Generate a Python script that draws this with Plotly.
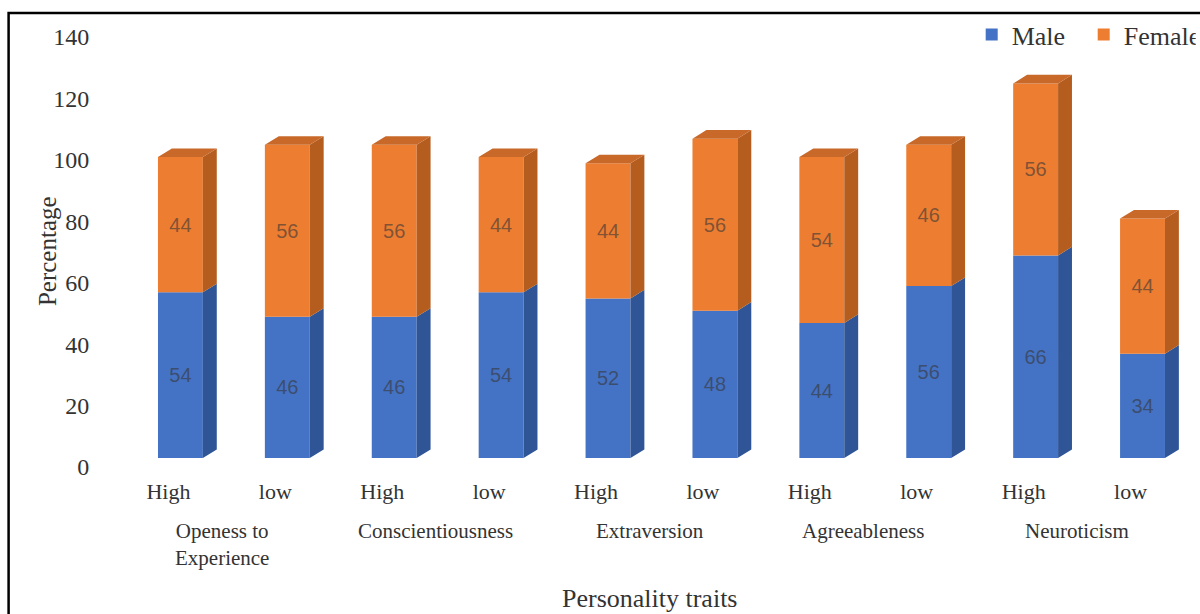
import plotly.graph_objects as go

# ---------------- data ----------------
levels = ["High", "low", "High", "low", "High", "low", "High", "low", "High", "low"]
traits = ["Openess to<br>Experience", "Conscientiousness", "Extraversion", "Agreeableness", "Neuroticism"]
male = [54, 46, 46, 54, 52, 48, 44, 56, 66, 34]
female = [44, 56, 56, 44, 44, 56, 54, 46, 56, 44]
y_ticks = [0, 20, 40, 60, 80, 100, 120, 140]

# ---------------- style ----------------
SERIF = "Liberation Serif"
SANS = "Liberation Sans"
BLUE, BLUE_SIDE = "#4472C4", "#2F5597"
ORANGE, ORANGE_SIDE, ORANGE_TOP = "#ED7D31", "#B55D1E", "#C8692A"
LABEL_COLOR = "rgba(55,55,55,0.62)"

BAR_W = 0.42      # front face width (x units)
SHIFT = 0.112     # front face offset from tick
DX = 0.13         # depth, horizontal (x units)
DY = 2.8          # depth, vertical (y units)
BASE0 = 2.9       # front face floor level

W, H = 1200, 614
L, R, T, B = 114.5, 15.5, 37, 147

n = len(levels)
xs = [i + SHIFT for i in range(n)]


def side_polys(x_list, y0_list, y1_list):
    px, py = [], []
    for x, y0, y1 in zip(x_list, y0_list, y1_list):
        xr = x + BAR_W / 2
        px += [xr, xr + DX, xr + DX, xr, xr, None]
        py += [y0, y0 + DY, y1 + DY, y1, y0, None]
    return px, py


def top_polys(x_list, y_list):
    px, py = [], []
    for x, y in zip(x_list, y_list):
        xl, xr = x - BAR_W / 2, x + BAR_W / 2
        px += [xl, xr, xr + DX, xl + DX, xl, None]
        py += [y, y, y + DY, y + DY, y, None]
    return px, py


male_base = [BASE0] * n
male_top = [BASE0 + m for m in male]
fem_top = [BASE0 + m + f for m, f in zip(male, female)]

fig = go.Figure()

fig.add_trace(go.Bar(
    name="Male", x=xs, y=male, base=male_base, width=BAR_W,
    marker=dict(color=BLUE, line=dict(width=0)),
    text=[str(v) for v in male], textposition="inside", insidetextanchor="middle",
    textangle=0, textfont=dict(family=SANS, size=20, color=LABEL_COLOR),
    hoverinfo="skip",
))
fig.add_trace(go.Bar(
    name="Female", x=xs, y=female, base=male_top, width=BAR_W,
    marker=dict(color=ORANGE, line=dict(width=0)),
    text=[str(v) for v in female], textposition="inside", insidetextanchor="middle",
    textangle=0, textfont=dict(family=SANS, size=20, color=LABEL_COLOR),
    hoverinfo="skip",
))

sx, sy = side_polys(xs, male_base, male_top)
fig.add_trace(go.Scatter(x=sx, y=sy, fill="toself", fillcolor=BLUE_SIDE, mode="lines",
                         line=dict(width=0, color=BLUE_SIDE), showlegend=False, hoverinfo="skip"))
sx, sy = side_polys(xs, male_top, fem_top)
fig.add_trace(go.Scatter(x=sx, y=sy, fill="toself", fillcolor=ORANGE_SIDE, mode="lines",
                         line=dict(width=0, color=ORANGE_SIDE), showlegend=False, hoverinfo="skip"))
tx, ty = top_polys(xs, fem_top)
fig.add_trace(go.Scatter(x=tx, y=ty, fill="toself", fillcolor=ORANGE_TOP, mode="lines",
                         line=dict(width=0, color=ORANGE_TOP), showlegend=False, hoverinfo="skip"))

pw = W - L - R
ph = H - T - B


def px_to_paper_x(p):
    return (p - L) / pw


def px_to_paper_y(p):
    return (H - B - p) / ph


annotations = []
for g, name in enumerate(traits):
    annotations.append(dict(
        x=2 * g + 0.5, xref="x", y=0, yref="paper", yanchor="top", yshift=-50,
        text=name, showarrow=False, font=dict(family=SERIF, size=21, color="#333333"),
        align="center",
    ))
annotations.append(dict(
    x=4.5, xref="x", y=px_to_paper_y(598), yref="paper", yanchor="middle",
    text="Personality traits", showarrow=False, font=dict(family=SERIF, size=26, color="#333333"),
))
annotations.append(dict(
    x=px_to_paper_x(32), xref="paper", y=px_to_paper_y(251), yref="paper",
    text="Percentage", textangle=-90, showarrow=False,
    font=dict(family=SERIF, size=25, color="#333333"),
))

fig.update_layout(
    width=W, height=H,
    margin=dict(l=L, r=R, t=T, b=B, autoexpand=False),
    paper_bgcolor="white", plot_bgcolor="white",
    barmode="overlay",
    showlegend=True,
    legend=dict(orientation="h", x=px_to_paper_x(972), y=px_to_paper_y(11),
                xanchor="left", yanchor="top", entrywidth=67, entrywidthmode="pixels",
                font=dict(family=SERIF, size=26, color="#333333"),
                bgcolor="rgba(0,0,0,0)", traceorder="normal"),
    xaxis=dict(range=[-0.5, n - 0.5], tickmode="array", tickvals=list(range(n)), ticktext=levels,
               showgrid=False, zeroline=False, showline=False,
               ticks="outside", ticklen=5, tickcolor="rgba(0,0,0,0)",
               tickfont=dict(family=SERIF, size=22, color="#333333")),
    yaxis=dict(range=[0, 140], tickmode="array", tickvals=y_ticks,
               showgrid=False, zeroline=False, showline=False,
               ticks="outside", ticklen=20, tickcolor="rgba(0,0,0,0)",
               tickfont=dict(family=SERIF, size=24, color="#333333")),
    annotations=annotations,
    shapes=[dict(type="rect", xref="paper", yref="paper",
                 x0=px_to_paper_x(8), x1=px_to_paper_x(1215),
                 y0=px_to_paper_y(630), y1=px_to_paper_y(13),
                 line=dict(color="black", width=2.5), fillcolor="rgba(0,0,0,0)", layer="above")],
)

fig.write_html("out.html")
